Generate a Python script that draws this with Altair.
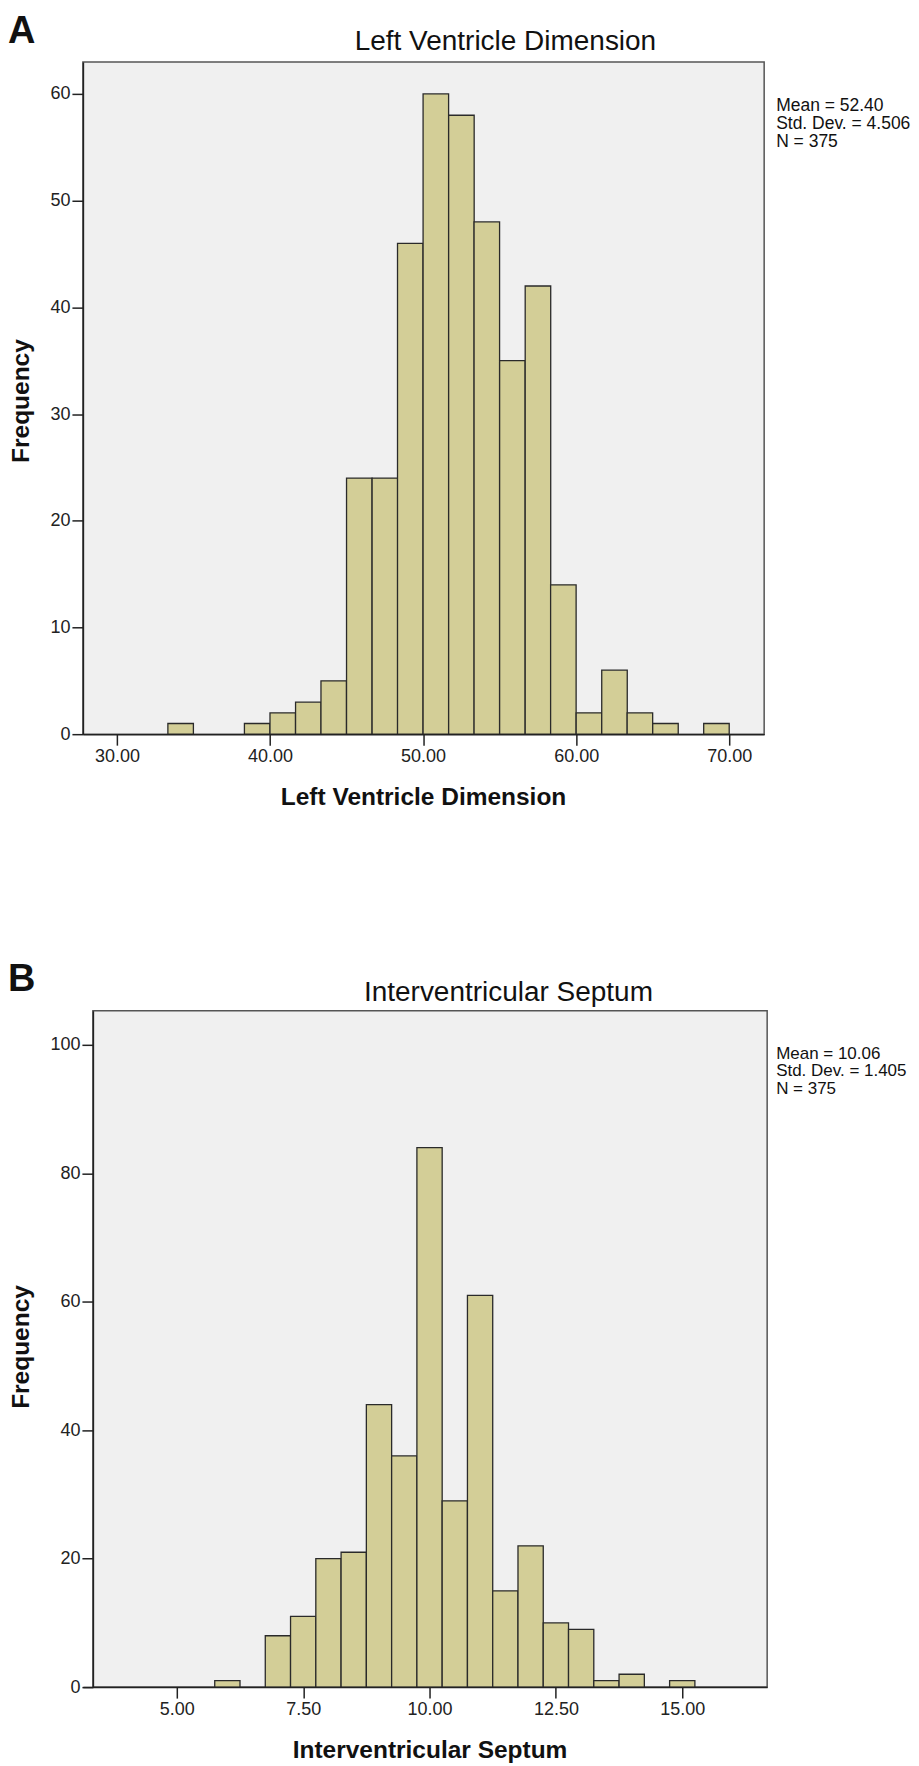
import altair as alt
import pandas as pd

# ---------------- data ----------------
lv_bin_start = [33.33, 38.33, 40.00, 41.67, 43.33, 45.00, 46.67, 48.33, 50.00, 51.67,
                53.33, 55.00, 56.67, 58.33, 60.00, 61.67, 63.33, 65.00, 68.33]
lv_counts = [1, 1, 2, 3, 5, 24, 24, 46, 60, 58, 48, 35, 42, 14, 2, 6, 2, 1, 1]
lv_bin_width = 1.667
lv_x_ticks = [30, 40, 50, 60, 70]
lv_y_ticks = [0, 10, 20, 30, 40, 50, 60]
lv_x_domain = [27.78, 72.28]
lv_y_domain = [0, 63.0]
lv_stats = ["Mean = 52.40", "Std. Dev. = 4.506", "N = 375"]

ivs_bin_center = [6.0, 7.0, 7.5, 8.0, 8.5, 9.0, 9.5, 10.0, 10.5, 11.0,
                  11.5, 12.0, 12.5, 13.0, 13.5, 14.0, 15.0]
ivs_counts = [1, 8, 11, 20, 21, 44, 36, 84, 29, 61, 15, 22, 10, 9, 1, 2, 1]
ivs_bin_width = 0.5
ivs_x_ticks = [5, 7.5, 10, 12.5, 15]
ivs_y_ticks = [0, 20, 40, 60, 80, 100]
ivs_x_domain = [3.142, 16.68]   # plot starts 10px left of the frame
ivs_y_domain = [0, 105.3]
ivs_stats = ["Mean = 10.06", "Std. Dev. = 1.405", "N = 375"]

FONT = "Liberation Sans"
FILL = "#d3ce97"


def make_panel(df, xdom, ydom, xticks, yticks, W, H, frame_x0, letter, letter_y,
               title, title_cx, title_y, xtitle, xtitle_cx, ytitle_dy,
               stats, stat_x, stat_y, stat_fs, stat_lh):
    frame = alt.Chart(pd.DataFrame({"f": [0]})).mark_rect(
        fill="#f0f0f0", stroke="#555555", strokeWidth=1.5
    ).encode(x=alt.value(frame_x0), x2=alt.value(W), y=alt.value(0), y2=alt.value(H))

    bars = alt.Chart(df).mark_rect(fill=FILL, stroke="#2a2a2a", strokeWidth=1.3).encode(
        x=alt.X("x0:Q", scale=alt.Scale(domain=xdom, nice=False, zero=False),
                axis=alt.Axis(values=xticks, format=".2f", title=None, zindex=1)),
        x2="x1:Q",
        y=alt.Y("count:Q", scale=alt.Scale(domain=ydom, nice=False),
                axis=alt.Axis(values=yticks, title=None, zindex=1, offset=-frame_x0)),
        y2=alt.datum(0),
    )

    def txt(s, **kw):
        return alt.Chart(pd.DataFrame({"t": [s]})).mark_text(font=FONT, color="#111", **kw)

    lab = txt(letter, fontSize=38, fontWeight="bold", align="left",
              baseline="alphabetic").encode(text="t:N", x=alt.value(-75), y=alt.value(letter_y))
    ttl = txt(title, fontSize=28, align="center", baseline="alphabetic").encode(
        text="t:N", x=alt.value(title_cx), y=alt.value(title_y))
    xt = txt(xtitle, fontSize=24.5, fontWeight="bold", align="center", baseline="alphabetic").encode(
        text="t:N", x=alt.value(xtitle_cx), y=alt.value(H + 71))
    yt = txt("Frequency", fontSize=24.5, fontWeight="bold", align="center", baseline="alphabetic",
             angle=270).encode(text="t:N", x=alt.value(-54), y=alt.value(H / 2 + ytitle_dy))
    st = alt.Chart(pd.DataFrame({"t": ["\n".join(stats)]})).mark_text(
        font=FONT, color="#111", fontSize=stat_fs, align="left", baseline="alphabetic",
        lineBreak="\n", lineHeight=stat_lh).encode(
        text="t:N", x=alt.value(stat_x), y=alt.value(stat_y))

    return alt.layer(frame, bars, lab, ttl, xt, yt, st).properties(width=W, height=H)


lv_df = pd.DataFrame({"x0": lv_bin_start, "count": lv_counts})
lv_df["x1"] = lv_df["x0"] + lv_bin_width

ivs_df = pd.DataFrame({"c": ivs_bin_center, "count": ivs_counts})
ivs_df["x0"] = ivs_df["c"] - ivs_bin_width / 2
ivs_df["x1"] = ivs_df["c"] + ivs_bin_width / 2

top = make_panel(lv_df, lv_x_domain, lv_y_domain, lv_x_ticks, lv_y_ticks, 682, 673, 0,
                 "A", -18.8, "Left Ventricle Dimension", 423, -12,
                 "Left Ventricle Dimension", 341, 3, lv_stats, 694, 49, 17.5, 18)
bottom = make_panel(ivs_df, ivs_x_domain, ivs_y_domain, ivs_x_ticks, ivs_y_ticks, 685, 677, 10,
                    "B", -20, "Interventricular Septum", 426, -10,
                    "Interventricular Septum", 347.5, -2, ivs_stats, 694, 48, 17, 17.5)

chart = alt.concat(top, bottom, columns=1, spacing=151).properties(
    padding={"left": 0, "top": 4, "right": 0, "bottom": 0}
).configure_view(
    strokeWidth=0
).configure_axis(
    labelFont=FONT, labelFontSize=18, labelColor="#222", labelPadding=2,
    tickColor="#222", tickWidth=1.5, tickSize=11,
    domainColor="#222", domainWidth=1.5, grid=False,
)

chart.save("out.html", embed_options={"renderer": "svg", "actions": False})
